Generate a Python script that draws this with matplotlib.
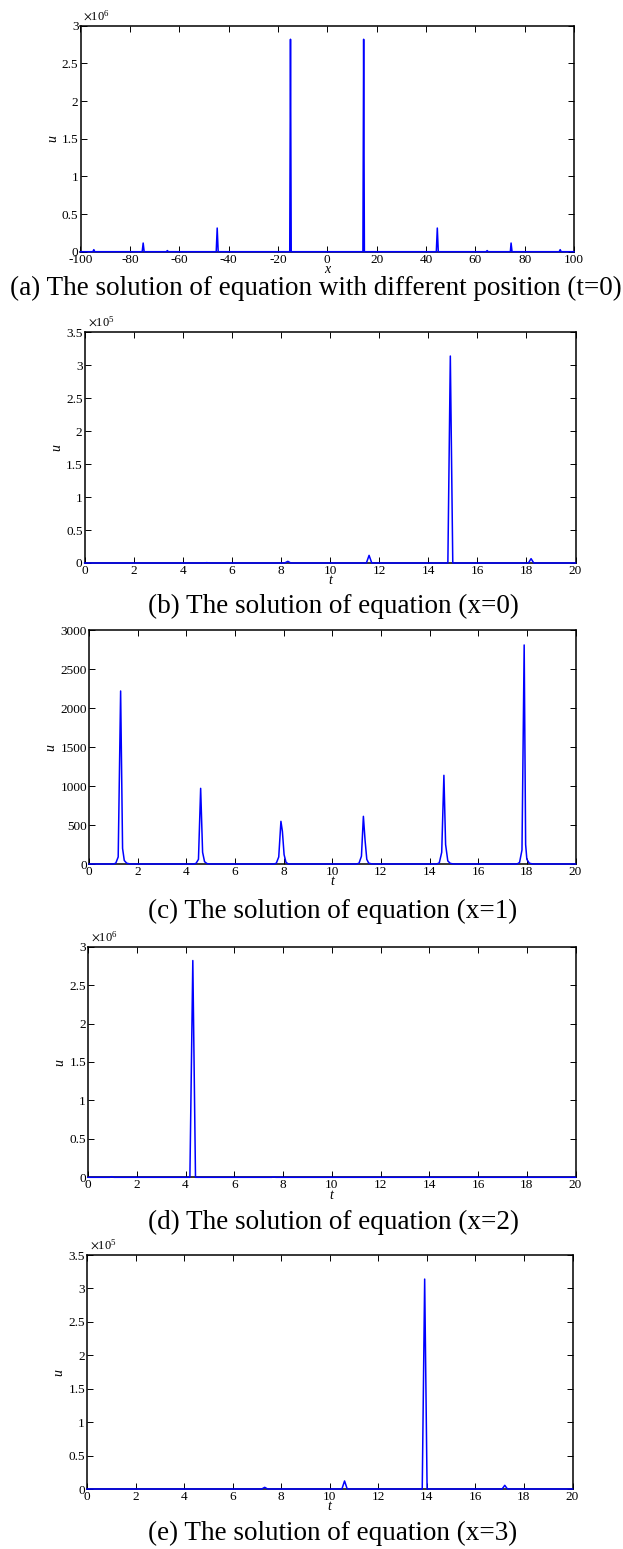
import matplotlib
matplotlib.use('Agg')
import matplotlib.pyplot as plt
from matplotlib.ticker import FuncFormatter, MultipleLocator

plt.rcParams['font.family'] = ['Liberation Serif', 'DejaVu Serif']
plt.rcParams['mathtext.fontset'] = 'stix'

# (a) u(x) at t=0
a_x = [-100, -95.0, -94.6, -94.2, -75.0, -74.6, -74.2, -65.2, -64.8, -64.4,
       -45.0, -44.6, -44.2, -15.2, -14.9, -14.6, 14.45, 14.75, 15.05,
       44.2, 44.6, 45.0, 64.4, 64.8, 65.2, 74.2, 74.5, 74.9, 94.0, 94.4, 94.8, 100]
a_u = [0, 0, 0.027e6, 0, 0, 0.115e6, 0, 0, 0.015e6, 0,
       0, 0.314e6, 0, 0, 2.82e6, 0, 0, 2.82e6, 0,
       0, 0.314e6, 0, 0, 0.015e6, 0, 0, 0.115e6, 0, 0, 0.027e6, 0, 0]

# (b) u(t) at x=0
b_t = [0, 4.85, 4.98, 5.1, 8.15, 8.28, 8.4, 11.48, 11.59, 11.7,
       14.8, 14.9, 15.0, 18.08, 18.19, 18.3, 20]
b_u = [0, 0, 500, 0, 0, 2500, 0, 0, 11600, 0,
       0, 3.14e5, 0, 0, 6600, 0, 0]

# (c) u(t) at x=1
c_t = [0, 1.0, 1.1, 1.2, 1.3, 1.38, 1.45, 1.55, 1.7,
       4.3, 4.4, 4.5, 4.59, 4.67, 4.75, 4.85, 5.0,
       7.6, 7.7, 7.8, 7.89, 7.95, 8.02, 8.1, 8.2,
       11.0, 11.1, 11.2, 11.28, 11.35, 11.42, 11.5, 11.65,
       14.3, 14.4, 14.5, 14.59, 14.66, 14.75, 14.85, 15.0,
       17.6, 17.7, 17.8, 17.89, 17.95, 18.0, 18.1, 18.25, 20]
c_u = [0, 0, 10, 90, 2218, 200, 45, 10, 0,
       0, 8, 60, 970, 150, 30, 5, 0,
       0, 10, 90, 547, 420, 120, 20, 0,
       0, 10, 100, 611, 300, 60, 10, 0,
       0, 15, 150, 1137, 250, 40, 8, 0,
       0, 20, 180, 2808, 250, 60, 10, 0, 0]

# (d) u(t) at x=2
d_t = [0, 0.9, 0.98, 1.06, 4.18, 4.3, 4.41, 7.54, 7.62, 7.7, 20]
d_u = [0, 0, 8000, 0, 0, 2.82e6, 0, 0, 6000, 0, 0]

# (e) u(t) at x=3
e_t = [0, 7.2, 7.32, 7.44, 10.5, 10.61, 10.72, 13.81, 13.91, 14.01,
       17.1, 17.21, 17.32, 20]
e_u = [0, 0, 2500, 0, 0, 12000, 0, 0, 3.14e5, 0,
       0, 5500, 0, 0]

W, H = 623, 1549
fig = plt.figure(figsize=(W / 100, H / 100), dpi=100)


def make_axes(left, right, top, bottom):
    return fig.add_axes([left / W, 1 - bottom / H, (right - left) / W, (bottom - top) / H])


def style(ax, xlim, xstep, ymax, ystep, scale, xlab):
    ax.set_xlim(*xlim)
    ax.set_ylim(0, ymax)
    ax.xaxis.set_major_locator(MultipleLocator(xstep))
    ax.yaxis.set_major_locator(MultipleLocator(ystep))
    ax.yaxis.set_major_formatter(FuncFormatter(lambda v, p: '%g' % round(v / scale, 6)))
    ax.xaxis.set_major_formatter(FuncFormatter(lambda v, p: '%g' % v))
    ax.tick_params(direction='in', top=True, right=True, length=4, width=0.7,
                   labelsize=9.5, pad=1.5)
    for s in ax.spines.values():
        s.set_linewidth(1.1)
    ax.set_xlabel(xlab, style='italic', fontsize=10, labelpad=-2)
    ax.set_ylabel('u', style='italic', fontsize=10, labelpad=2)
    if scale != 1:
        exp = len(str(int(scale))) - 1
        ax.text(0.006, 1.012, r'$\times\mathdefault{10^{%d}}$' % exp, transform=ax.transAxes,
                fontsize=9, ha='left', va='bottom')


panels = [
    ((80.5, 574, 25.7, 251.7), a_x, a_u, (-100, 100), 20, 3e6, 0.5e6, 1e6, 'x'),
    ((84.6, 575.5, 332.3, 563), b_t, b_u, (0, 20), 2, 3.5e5, 0.5e5, 1e5, 't'),
    ((89, 575.5, 630, 864), c_t, c_u, (0, 20), 2, 3000, 500, 1, 't'),
    ((88, 575.5, 946.7, 1177.3), d_t, d_u, (0, 20), 2, 3e6, 0.5e6, 1e6, 't'),
    ((87, 572.5, 1255, 1489), e_t, e_u, (0, 20), 2, 3.5e5, 0.5e5, 1e5, 't'),
]

for box, xs, ys, xlim, xstep, ymax, ystep, scale, xlab in panels:
    ax = make_axes(*box)
    ax.plot(xs, ys, color='#0000ff', linewidth=1.1, zorder=3, clip_on=False)
    style(ax, xlim, xstep, ymax, ystep, scale, xlab)

captions = [
    (316, 288, '(a) The solution of equation with different position (t=0)'),
    (333, 606.5, '(b) The solution of equation (x=0)'),
    (333, 911.5, '(c) The solution of equation (x=1)'),
    (333, 1222, '(d) The solution of equation (x=2)'),
    (333, 1533, '(e) The solution of equation (x=3)'),
]
for cx, cy, txt in captions:
    fig.text(cx / W, 1 - cy / H, txt, ha='center', va='center', fontsize=19.5)

fig.savefig('out.png', dpi=100)
